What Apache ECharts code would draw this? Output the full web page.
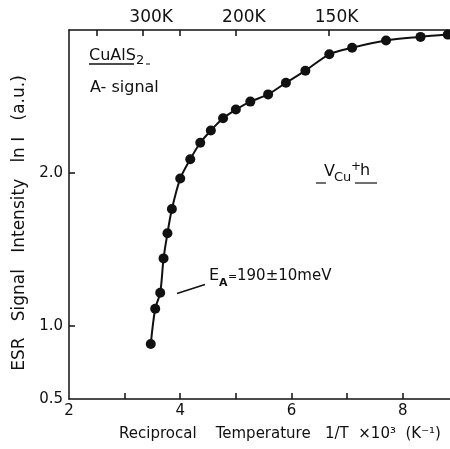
<!DOCTYPE html>
<html><head><meta charset="utf-8">
<script src="https://cdn.jsdelivr.net/npm/echarts@6/dist/echarts.min.js"></script>
<style>html,body{margin:0;padding:0;background:#fff}#c{width:450px;height:449px}</style>
</head><body><div id="c"></div>
<script>
// Data
const reciprocalT = [3.47, 3.55, 3.64, 3.70, 3.77, 3.85, 4.00, 4.18, 4.36, 4.55, 4.77, 5.00, 5.26, 5.58, 5.90, 6.25, 6.68, 7.09, 7.70, 8.32, 8.81];
const signal      = [0.882, 1.113, 1.218, 1.442, 1.606, 1.765, 1.964, 2.090, 2.198, 2.278, 2.358, 2.415, 2.467, 2.514, 2.590, 2.669, 2.776, 2.819, 2.866, 2.890, 2.905];
const xTickValues = [3, 4, 5, 6, 7, 8];
const xLabelValues = [2, 4, 6, 8];
const yTickValues = [1, 2];
const yLabelValues = [0.523, 1, 2];
const yLabelTexts = ['0.5', '1.0', '2.0'];
const tempTickK = [400, 300, 250, 200, 150];
const tempLabelK = [300, 200, 150];

const FONT = 'DejaVu Sans';
const INK = '#111';
const seriesData = reciprocalT.map((x, i) => [x, signal[i]]);

const chart = echarts.init(document.getElementById('c'), null, {renderer: 'canvas'});
chart.setOption({
  backgroundColor: '#fff',
  animation: false,
  grid: {left: 69, right: 0, top: 30, bottom: 50},
  xAxis: [{
    type: 'value', position: 'bottom', min: 2, max: 8.85,
    name: 'Reciprocal    Temperature   1/T  ×10³  (K⁻¹)',
    nameLocation: 'middle', nameGap: 28,
    nameTextStyle: {fontFamily: FONT, fontSize: 15, color: INK, padding: [0, 0, 0, 41]},
    axisLine: {show: true, onZero: false, lineStyle: {color: INK, width: 1.5}},
    axisTick: {show: true, inside: true, length: 6, customValues: xTickValues, lineStyle: {color: INK, width: 1.5}},
    axisLabel: {customValues: xLabelValues, margin: 5, fontFamily: FONT, fontSize: 15, color: INK},
    splitLine: {show: false}
  }, {
    type: 'value', position: 'top', min: 2, max: 8.85,
    axisLine: {show: true, onZero: false, lineStyle: {color: INK, width: 1.5}},
    axisTick: {show: true, inside: true, length: 6, customValues: tempTickK.map(t => 1000 / t), lineStyle: {color: INK, width: 1.5}},
    axisLabel: {customValues: tempLabelK.map(t => 1000 / t), margin: 4, fontFamily: FONT, fontSize: 17, color: INK,
      padding: [0, 0, 0, 16],
      formatter: v => Math.round(1000 / v) + 'K'},
    splitLine: {show: false}
  }],
  yAxis: {
    type: 'value', min: 0.523, max: 2.935,
    name: 'ESR   Signal   Intensity   ln I   (a.u.)',
    nameLocation: 'middle', nameGap: 38,
    nameTextStyle: {fontFamily: FONT, fontSize: 17, color: INK, padding: [0, 17, 0, 0]},
    axisLine: {show: true, onZero: false, lineStyle: {color: INK, width: 1.5}},
    axisTick: {show: true, inside: true, length: 6, customValues: yTickValues, lineStyle: {color: INK, width: 1.5}},
    axisLabel: {customValues: yLabelValues, margin: 6, fontFamily: FONT, fontSize: 15, color: INK,
      formatter: v => {
        const i = yLabelValues.findIndex(u => Math.abs(u - v) < 1e-6);
        return i >= 0 ? yLabelTexts[i] : '';
      }},
    splitLine: {show: false}
  },
  series: [{
    type: 'line', data: seriesData, smooth: 0.3,
    symbol: 'circle', symbolSize: 10,
    lineStyle: {color: INK, width: 2},
    itemStyle: {color: INK},
    clip: false
  }],
  graphic: [
    {type: 'text', x: 89, y: 56, style: {text: 'CuAlS', font: '16px ' + FONT, fill: INK, verticalAlign: 'middle'}},
    {type: 'text', x: 136, y: 61, style: {text: '2', font: '13px ' + FONT, fill: INK, verticalAlign: 'middle'}},
    {type: 'line', shape: {x1: 89, y1: 64, x2: 134, y2: 64}, style: {stroke: INK, lineWidth: 1.5}},
    {type: 'line', shape: {x1: 146, y1: 64, x2: 150, y2: 64}, style: {stroke: INK, lineWidth: 1}},
    {type: 'text', x: 90, y: 88, style: {text: 'A- signal', font: '16px ' + FONT, fill: INK, verticalAlign: 'middle'}},

    {type: 'text', x: 324, y: 172, style: {text: 'V', font: '16px ' + FONT, fill: INK, verticalAlign: 'middle'}},
    {type: 'text', x: 334, y: 178, style: {text: 'Cu', font: '13px ' + FONT, fill: INK, verticalAlign: 'middle'}},
    {type: 'text', x: 351, y: 167, style: {text: '+', font: '12px ' + FONT, fill: INK, verticalAlign: 'middle'}},
    {type: 'text', x: 360, y: 171, style: {text: 'h', font: '16px ' + FONT, fill: INK, verticalAlign: 'middle'}},
    {type: 'line', shape: {x1: 316, y1: 183, x2: 326, y2: 183}, style: {stroke: INK, lineWidth: 1.2}},
    {type: 'line', shape: {x1: 355, y1: 183, x2: 377, y2: 183}, style: {stroke: INK, lineWidth: 1.2}},

    {type: 'text', x: 209, y: 276, style: {text: 'E', font: '16px ' + FONT, fill: INK, verticalAlign: 'middle'}},
    {type: 'text', x: 219, y: 283, style: {text: 'A', font: 'bold 11px ' + FONT, fill: INK, verticalAlign: 'middle'}},
    {type: 'text', x: 228, y: 277, style: {text: '=', font: '11px ' + FONT, fill: INK, verticalAlign: 'middle'}},
    {type: 'text', x: 237, y: 276, style: {text: '190±10meV', font: '15px ' + FONT, fill: INK, verticalAlign: 'middle'}},
    {type: 'line', shape: {x1: 177, y1: 293.5, x2: 205, y2: 284.5}, style: {stroke: INK, lineWidth: 1.5}}
  ]
});
</script>
</body></html>
